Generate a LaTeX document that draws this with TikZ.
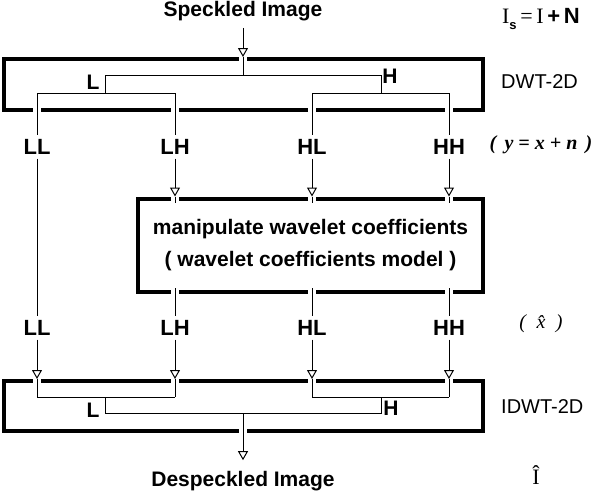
\documentclass[tikz,border=0pt]{standalone}
\usepackage{fontspec}
\setmainfont{Liberation Sans}
\newfontfamily\timesfont{Liberation Serif}
\usetikzlibrary{arrows.meta}

\begin{document}
\begin{tikzpicture}[
  x=1pt, y=-1pt,
  frame/.style={draw, line width=4pt, inner sep=0pt},
  wire/.style={line width=1pt},
  xwire/.style={draw=white, double=black, double distance=1pt, line width=3.5pt},
  arr/.style={wire, -{Triangle[open, length=9pt, width=10pt]}},
  band/.style={font=\fontsize{22}{22}\selectfont\bfseries, inner sep=0pt, outer sep=4pt},
  sub/.style={font=\fontsize{21}{21}\selectfont\bfseries, inner sep=0pt},
  io/.style={font=\fontsize{21}{21}\selectfont\bfseries, inner sep=0pt},
  note/.style={font=\fontsize{20}{20}\selectfont, inner sep=0pt, anchor=west}
]
  \useasboundingbox (0,0) rectangle (594,490);

  % transforms and the coefficient model
  \node[frame, minimum width=479pt, minimum height=51pt] (dwt) at (243,84.5) {};
  \node[frame, minimum width=479pt, minimum height=50pt] (idwt) at (243,406) {};
  \node[frame, minimum width=345pt, minimum height=93.5pt, align=center,
        font=\fontsize{21}{32}\selectfont\bfseries] (wcm) at (310.5,245.25)
        {manipulate wavelet coefficients\\( wavelet coefficients model )};

  \node[io, outer sep=7pt] (spk) at (243,11) {Speckled Image};
  \node[io, outer sep=11pt] (despk) at (243,481) {Despeckled Image};

  % filter tree points
  \coordinate (jt) at (243,75);
  \coordinate (lt) at (105,75);
  \coordinate (ht) at (381,75);
  \coordinate (lt2) at (105,93);
  \coordinate (ht2) at (381,93);
  \coordinate (lb) at (105,397);
  \coordinate (hb) at (381,397);
  \coordinate (lb2) at (105,413);
  \coordinate (hb2) at (381,413);
  \coordinate (ob) at (243,413);
  \coordinate (oc) at (243,438);

  \node[sub] (lsub) at (93,82) {L};
  \node[sub] (hsub) at (390,76) {H};
  \node[sub] (lsub2) at (93,410) {L};
  \node[sub] (hsub2) at (391,408) {H};

  % subbands
  \foreach \n/\x/\t in {ll1/37/LL, lh1/175/LH, hl1/312/HL, hh1/449/HH}
    \node[band] (\n) at (\x,147) {\t};
  \foreach \n/\x/\t in {ll2/37/LL, lh2/175/LH, hl2/312/HL, hh2/449/HH}
    \node[band] (\n) at (\x,328) {\t};

  % right side notes
  \node[font=\fontsize{22}{22}\selectfont, inner sep=0pt] (eqin) at (541,19)
    {{\timesfont I}\raisebox{-6pt}{\fontsize{13}{13}\selectfont\bfseries s}\,{\timesfont =\,I}\,\textbf{+\,N}};
  \node[note] (dwtlbl) at (501,82) {DWT-2D};
  \node[font=\timesfont\fontsize{20}{20}\selectfont\bfseries\itshape, inner sep=0pt] (ymod) at (541,145)
    {(\, y = x + n\, )};
  \node[font=\timesfont\fontsize{20}{20}\selectfont\itshape, inner sep=0pt] (xhat) at (541,324)
    {(\; \^{x}\; )};
  \node[note] (idwtlbl) at (501,407) {IDWT-2D};
  \node[font=\timesfont\fontsize{22}{22}\selectfont, inner sep=0pt] (ihat) at (536,475) {Î};

  % wires through the thick frames
  \draw[xwire] (dwt.north) -- (jt);
  \foreach \n in {ll1,lh1,hl1,hh1}
    \draw[xwire] (\n |- lt2) -- (\n);
  \foreach \n in {lh1,hl1,hh1}
    \draw[xwire] (\n |- wcm.north) -- ++(0,6);
  \foreach \n in {lh2,hl2,hh2}
    \draw[xwire] (\n |- wcm.south) ++(0,-6) -- (\n);
  \foreach \n in {ll2,lh2,hl2,hh2}
    \draw[xwire] (\n |- idwt.north) -- (\n |- lb);
  \draw[xwire] (ob) -- (oc);

  % connections
  \draw[arr] (spk) -- (dwt.north);
  \draw[wire] (lt2) -- (lt) -- (ht) -- (ht2);
  \draw[wire] (ll1 |- lt2) -- (lh1 |- lt2);
  \draw[wire] (hl1 |- ht2) -- (hh1 |- ht2);
  \draw[wire] (ll1) -- (ll2);
  \foreach \n in {lh1,hl1,hh1}
    \draw[arr] (\n) -- (\n |- wcm.north);
  \foreach \n in {ll2,lh2,hl2,hh2}
    \draw[arr] (\n) -- (\n |- idwt.north);
  \draw[wire] (ll2 |- lb) -- (lh2 |- lb);
  \draw[wire] (hl2 |- hb) -- (hh2 |- hb);
  \draw[wire] (lb) -- (lb2) -- (hb2) -- (hb);
  \draw[arr] (ob) -- (despk);
\end{tikzpicture}
\end{document}
